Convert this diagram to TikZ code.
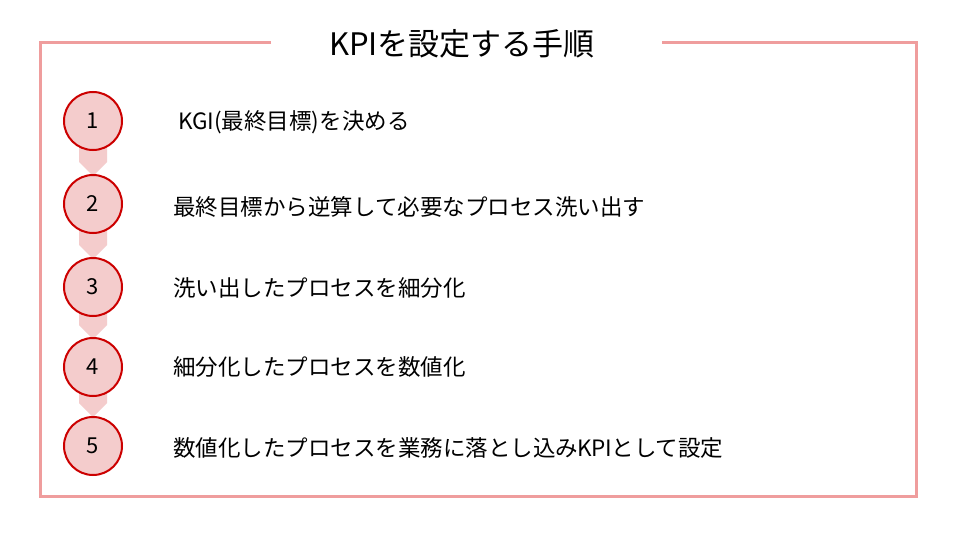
\documentclass[tikz,border=0pt]{standalone}
\usepackage{fontspec}
\setmainfont{Noto Sans CJK JP}
\begin{document}
\begin{tikzpicture}[x=1pt,y=-1pt,
  framecol/.style={draw=frameC,line width=3pt},
  stepcircle/.style={circle,draw=circC,fill=fillC,line width=2pt,minimum size=58pt,inner sep=0pt,font=\fontsize{22}{24}\selectfont},
  steptext/.style={anchor=west,inner sep=0pt,font=\fontsize{22.5}{26}\selectfont},
  chevron/.style={fill=fillC,draw=none}]
\definecolor{frameC}{HTML}{EF9D9D}
\definecolor{circC}{HTML}{CC0000}
\definecolor{fillC}{HTML}{F4CCCC}
\useasboundingbox (0,0) rectangle (960,540);
\fill[white] (0,0) rectangle (960,540);
\coordinate (fa) at (271,43);
\coordinate (fb) at (40,43);
\coordinate (fc) at (40,496);
\coordinate (fd) at (916,496);
\coordinate (fe) at (916,43);
\coordinate (ff) at (662,43);
\draw[framecol] (fa) -- (fb) -- (fc) -- (fd) -- (fe) -- (ff);
\node[font=\fontsize{31}{34}\selectfont,inner sep=0pt] (title) at (462,44) {KPIを設定する手順};
% chevrons
\foreach \a/\b in {121/175,204/258,287/338,367/416}{
  \fill[chevron] (79,\a) -- (79,\b-13) -- (93,\b+1) -- (107,\b-13) -- (107,\a) -- cycle;
}
\node[stepcircle] (c1) at (93,121) {1};
\node[stepcircle] (c2) at (93,204) {2};
\node[stepcircle] (c3) at (93,287) {3};
\node[stepcircle] (c4) at (93,367) {4};
\node[stepcircle] (c5) at (93,446) {5};
\node[steptext] (t1) at (178,122) {KGI(最終目標)を決める};
\node[steptext] (t2) at (173,207) {最終目標から逆算して必要なプロセス洗い出す};
\node[steptext] (t3) at (173,288) {洗い出したプロセスを細分化};
\node[steptext] (t4) at (173,367) {細分化したプロセスを数値化};
\node[steptext] (t5) at (173,448) {数値化したプロセスを業務に落とし込み\kern-1pt KPI\kern-1pt として設定};
\end{tikzpicture}
\end{document}
